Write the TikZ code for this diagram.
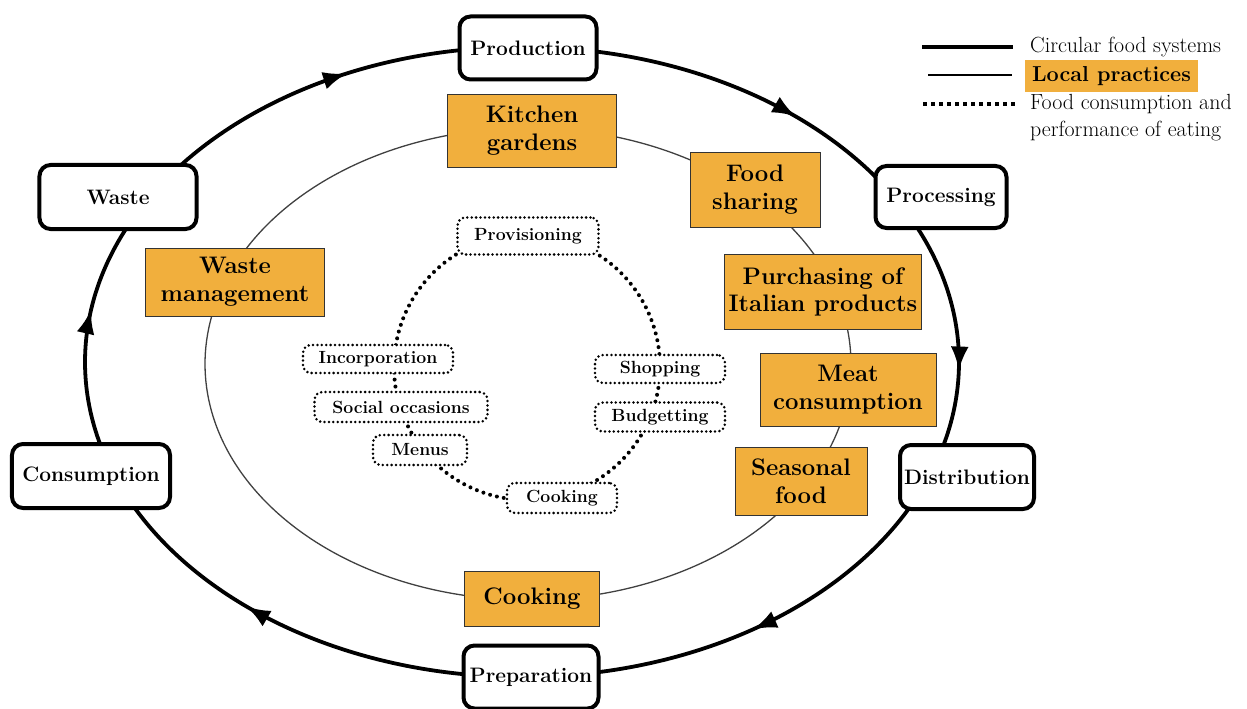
\documentclass[tikz,border=0pt]{standalone}
\usepackage{fontspec}
\usetikzlibrary{arrows.meta,decorations.markings,backgrounds}
\definecolor{practiceorange}{HTML}{F1AF3D}
\tikzset{
  cyclebox/.style={draw, line width=4bp, rounded corners=11bp, fill=white, inner sep=0pt,
    font=\fontsize{21}{24}\selectfont\bfseries},
  practicebox/.style={draw=black!80, line width=0.9bp, fill=practiceorange, inner sep=0pt,
    align=center, font=\fontsize{24}{28}\selectfont\bfseries},
  eatbox/.style={draw, line width=2.8bp, dash pattern=on 0bp off 4.4bp, line cap=round,
    rounded corners=8bp, fill=white, inner sep=0pt, font=\fontsize{17.7}{20}\selectfont\bfseries},
  cycleline/.style={line width=3.8bp},
  localline/.style={line width=1.3bp, draw=black!75},
  eatline/.style={line width=4bp, dash pattern=on 0bp off 7bp, line cap=round},
  arrowat/.style={postaction={decorate}, decoration={markings,
    mark=at position #1 with {\arrow{Latex[length=24bp,width=18bp]}}}},
  legendtext/.style={anchor=west, inner sep=0pt, align=left, font=\fontsize{22}{27}\selectfont},
}
\begin{document}
\begin{tikzpicture}[x=1bp, y=-1bp]
\useasboundingbox (0,0) rectangle (1247,709);

% ---------------- outer cycle: circular food systems ----------------
\node[cyclebox, minimum width=137bp, minimum height=63bp] (production)   at (528,48)  {Production};
\node[cyclebox, minimum width=131bp, minimum height=62bp] (processing)   at (941,197) {Processing};
\node[cyclebox, minimum width=134bp, minimum height=64bp] (distribution) at (967,477) {Distribution};
\node[cyclebox, minimum width=135bp, minimum height=63bp] (preparation)  at (531,677) {Preparation};
\node[cyclebox, minimum width=158bp, minimum height=64bp] (consumption)  at (91,476)  {Consumption};
\node[cyclebox, minimum width=157bp, minimum height=64bp] (waste)        at (118,197) {Waste};

% points where the outer ellipse runs through each box
\coordinate (on-production)   at ({522+437*cos(-89)},{362+315*sin(-89)});
\coordinate (on-processing)   at ({522+437*cos(-31)},{362+315*sin(-31)});
\coordinate (on-distribution) at ({522+437*cos(21)},{362+315*sin(21)});
\coordinate (on-preparation)  at ({522+437*cos(89)},{362+315*sin(89)});
\coordinate (on-consumption)  at ({522+437*cos(159)},{362+315*sin(159)});
\coordinate (on-waste)        at ({522+437*cos(211.6)},{362+315*sin(211.6)});

% ---------------- middle ring: local practices ----------------
\node[practicebox, minimum width=169bp, minimum height=73bp] (kitchen)  at (532,131) {Kitchen\\gardens};
\node[practicebox, minimum width=130bp, minimum height=75bp] (sharing)  at (755,190) {Food\\sharing};
\node[practicebox, minimum width=197bp, minimum height=75bp] (italian)  at (823,292) {Purchasing of\\Italian products};
\node[practicebox, minimum width=176bp, minimum height=73bp] (meat)     at (848,390) {Meat\\consumption};
\node[practicebox, minimum width=132bp, minimum height=68bp] (seasonal) at (801,481) {Seasonal\\food};
\node[practicebox, minimum width=135bp, minimum height=55bp] (cookingp) at (532,599) {Cooking};
\node[practicebox, minimum width=179bp, minimum height=68bp] (wastemgmt) at (235,282) {Waste\\management};

\coordinate (on-kitchen)   at ({528+323*cos(-90)},{364+236*sin(-90)});
\coordinate (on-sharing)   at ({528+323*cos(-44)},{364+236*sin(-44)});
\coordinate (on-italian)   at ({528+323*cos(-17.8)},{364+236*sin(-17.8)});
\coordinate (on-meat)      at ({528+323*cos(6.3)},{364+236*sin(6.3)});
\coordinate (on-seasonal)  at ({528+323*cos(29.7)},{364+236*sin(29.7)});
\coordinate (on-cookingp)  at ({528+323*cos(90)},{364+236*sin(90)});
\coordinate (on-wastemgmt) at ({528+323*cos(195.7)},{364+236*sin(195.7)});

% ---------------- inner ring: food consumption and eating ----------------
\node[eatbox, minimum width=141bp, minimum height=37bp] (provisioning) at (528,236) {Provisioning};
\node[eatbox, minimum width=130bp, minimum height=28bp] (shopping)     at (660,369) {Shopping};
\node[eatbox, minimum width=130bp, minimum height=29bp] (budgetting)   at (660,417) {Budgetting};
\node[eatbox, minimum width=110bp, minimum height=30bp] (cookinge)     at (562,498) {Cooking};
\node[eatbox, minimum width=94bp,  minimum height=30bp] (menus)        at (420,450) {Menus};
\node[eatbox, minimum width=173bp, minimum height=30bp] (social)       at (401,407) {Social occasions};
\node[eatbox, minimum width=150bp, minimum height=28bp] (incorporation) at (378,359) {Incorporation};

\coordinate (on-provisioning)  at ({527+133*cos(-90)},{367+133*sin(-90)});
\coordinate (on-shopping)      at ({527+133*cos(0)},{367+133*sin(0)});
\coordinate (on-budgetting)    at ({527+133*cos(22)},{367+133*sin(22)});
\coordinate (on-cookinge)      at ({527+133*cos(85)},{367+133*sin(85)});
\coordinate (on-menus)         at ({527+133*cos(141.4)},{367+133*sin(141.4)});
\coordinate (on-social)        at ({527+133*cos(162.5)},{367+133*sin(162.5)});
\coordinate (on-incorporation) at ({527+133*cos(183.4)},{367+133*sin(183.4)});

\begin{scope}[on background layer]
  % outer cycle, clockwise
  \draw[cycleline, arrowat=0.68] (on-production) arc[start angle=89, end angle=31, x radius=437bp, y radius=315bp];
  \draw[cycleline, arrowat=0.63] (on-processing) arc[start angle=31, end angle=-21, x radius=437bp, y radius=315bp];
  \draw[cycleline, arrowat=0.51] (on-distribution) arc[start angle=-21, end angle=-89, x radius=437bp, y radius=315bp];
  \draw[cycleline, arrowat=0.61] (on-preparation) arc[start angle=-89, end angle=-159, x radius=437bp, y radius=315bp];
  \draw[cycleline, arrowat=0.57] (on-consumption) arc[start angle=-159, end angle=-211.6, x radius=437bp, y radius=315bp];
  \draw[cycleline, arrowat=0.56] (on-waste) arc[start angle=-211.6, end angle=-271, x radius=437bp, y radius=315bp];

  % local practices ring
  \draw[localline] (on-kitchen) arc[start angle=90, end angle=44, x radius=323bp, y radius=236bp];
  \draw[localline] (on-sharing) arc[start angle=44, end angle=17.8, x radius=323bp, y radius=236bp];
  \draw[localline] (on-italian) arc[start angle=17.8, end angle=-6.3, x radius=323bp, y radius=236bp];
  \draw[localline] (on-meat) arc[start angle=-6.3, end angle=-29.7, x radius=323bp, y radius=236bp];
  \draw[localline] (on-seasonal) arc[start angle=-29.7, end angle=-90, x radius=323bp, y radius=236bp];
  \draw[localline] (on-cookingp) arc[start angle=-90, end angle=-195.7, x radius=323bp, y radius=236bp];
  \draw[localline] (on-wastemgmt) arc[start angle=-195.7, end angle=-270, x radius=323bp, y radius=236bp];

  % eating ring
  \draw[eatline] (on-provisioning) arc[start angle=90, end angle=0, radius=133bp];
  \draw[eatline] (on-shopping) arc[start angle=0, end angle=-22, radius=133bp];
  \draw[eatline] (on-budgetting) arc[start angle=-22, end angle=-85, radius=133bp];
  \draw[eatline] (on-cookinge) arc[start angle=-85, end angle=-141.4, radius=133bp];
  \draw[eatline] (on-menus) arc[start angle=-141.4, end angle=-162.5, radius=133bp];
  \draw[eatline] (on-social) arc[start angle=-162.5, end angle=-183.4, radius=133bp];
  \draw[eatline] (on-incorporation) arc[start angle=-183.4, end angle=-270, radius=133bp];
\end{scope}

% ---------------- legend ----------------
\coordinate (keyA1) at (922,47);  \coordinate (keyA2) at (1013,47);
\coordinate (keyB1) at (928,75);  \coordinate (keyB2) at (1012,75);
\coordinate (keyC1) at (923,104); \coordinate (keyC2) at (1015,104);
\draw[cycleline] (keyA1) -- (keyA2);
\draw[line width=2bp] (keyB1) -- (keyB2);
\draw[line width=4bp, dash pattern=on 4bp off 4bp] (keyC1) -- (keyC2);
\node[legendtext] (keytextA) at (1030,47) {Circular food systems};
\node[fill=practiceorange, inner sep=0pt, minimum width=173bp, minimum height=32bp,
      font=\fontsize{21.7}{24}\selectfont\bfseries] (keytextB) at (1111.5,76) {Local practices};
\node[legendtext] (keytextC) at (1030,117.5) {Food consumption and\\performance of eating};
\end{tikzpicture}
\end{document}
